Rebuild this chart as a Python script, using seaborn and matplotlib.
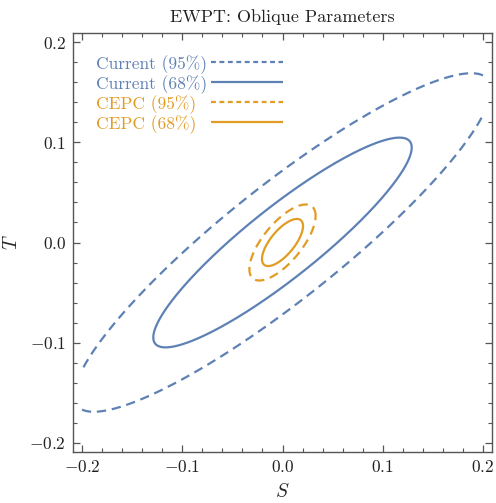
import numpy as np
import pandas as pd
import matplotlib
matplotlib.use("Agg")
import matplotlib.pyplot as plt
from matplotlib.ticker import MultipleLocator
import seaborn as sns

# ---- data ----
experiments = ["Current", "CEPC"]
center_S = [0.0, 0.0]
center_T = [0.0, 0.0]
sigma_S = [0.0850, 0.0135]
sigma_T = [0.0690, 0.0155]
rho = [0.905, 0.70]
cl_names = ["95%", "68%"]
delta_chi2 = [5.99, 2.30]
colors = ["#5E81B5", "#E19C24"]
region = [-0.2, 0.2]          # region in which the contours were computed
x_ticks = [-0.2, -0.1, 0.0, 0.1, 0.2]
y_ticks = [-0.2, -0.1, 0.0, 0.1, 0.2]

sns.set_style("ticks")
plt.rcParams.update({
    "font.family": "serif",
    "font.serif": ["cmr10"],
    "mathtext.fontset": "cm",
    "axes.formatter.use_mathtext": True,
    "axes.unicode_minus": True,
})

W, H = 496, 503
fig = plt.figure(figsize=(W / 100, H / 100), dpi=100)
ax = fig.add_axes([73 / W, 1 - 452 / H, (492 - 73) / W, (452 - 33) / H])

t = np.linspace(0, 2 * np.pi, 1441)
for e, exp in enumerate(experiments):
    for c, cl in enumerate(cl_names):
        k = np.sqrt(delta_chi2[c])
        S = center_S[e] + k * sigma_S[e] * np.cos(t)
        T = center_T[e] + k * sigma_T[e] * (rho[e] * np.cos(t) + np.sqrt(1 - rho[e] ** 2) * np.sin(t))
        inside = (S >= region[0]) & (S <= region[1]) & (T >= region[0]) & (T <= region[1])
        if not inside.all():
            i0 = int(np.argmin(inside))   # start at an outside point
            S, T, inside = np.roll(S, -i0), np.roll(T, -i0), np.roll(inside, -i0)
        # split into contiguous arcs inside the region
        seg_id = np.cumsum(~inside)
        df = pd.DataFrame({"S": S[inside], "T": T[inside], "arc": seg_id[inside]})
        for _, arc in df.groupby("arc"):
            n_before = len(ax.lines)
            sns.lineplot(data=arc, x="S", y="T", sort=False, estimator=None, ax=ax,
                         color=colors[e], linewidth=1.6)
            ln = ax.lines[n_before]
            ln.set_solid_capstyle("butt")
            ln.set_dash_capstyle("butt")
            if cl == "95%":
                ln.set_dashes((4.2, 2.6))

ax.set_xlim(-0.209, 0.209)
ax.set_ylim(-0.209, 0.209)
ax.set_xticks(x_ticks)
ax.set_yticks(y_ticks)
ax.xaxis.set_minor_locator(MultipleLocator(0.02))
ax.yaxis.set_minor_locator(MultipleLocator(0.02))
ax.tick_params(which="both", direction="in", top=True, right=True,
               color="#555555", labelsize=12.5, labelcolor="#222222")
ax.tick_params(which="major", length=5, width=0.9, pad=5)
ax.tick_params(which="minor", length=3, width=0.8)
for sp in ax.spines.values():
    sp.set_color("#555555")
    sp.set_linewidth(1.0)

ax.set_xlabel("$S$", fontsize=14, labelpad=6)
ax.set_ylabel("$T$", fontsize=14, labelpad=6)
ax.set_title("EWPT: Oblique Parameters", fontsize=13, pad=8, color="#222222")

# legend: left-aligned coloured labels, sample lines in a column to the right
leg_rows_y = [62, 82, 102, 122]   # pixel rows
text_x, line_x0, line_x1 = 96, 211, 283
def ax_coords(px, py):
    return ((px - 73) / (492 - 73), (452 - py) / (452 - 33))
row = 0
for e, exp in enumerate(experiments):
    for c, cl in enumerate(cl_names):
        tx, ty = ax_coords(text_x, leg_rows_y[row])
        ax.text(tx, ty, f"{exp} ({cl})", transform=ax.transAxes, color=colors[e],
                fontsize=12.5, ha="left", va="center_baseline")
        x0, y0 = ax_coords(line_x0, leg_rows_y[row])
        x1, _ = ax_coords(line_x1, leg_rows_y[row])
        ln, = ax.plot([x0, x1], [y0, y0], transform=ax.transAxes, color=colors[e],
                      linewidth=1.6, clip_on=False, solid_capstyle="butt",
                      dash_capstyle="butt")
        if cl == "95%":
            ln.set_dashes((2.2, 1.6))
        row += 1

fig.savefig("out.png", dpi=100)
